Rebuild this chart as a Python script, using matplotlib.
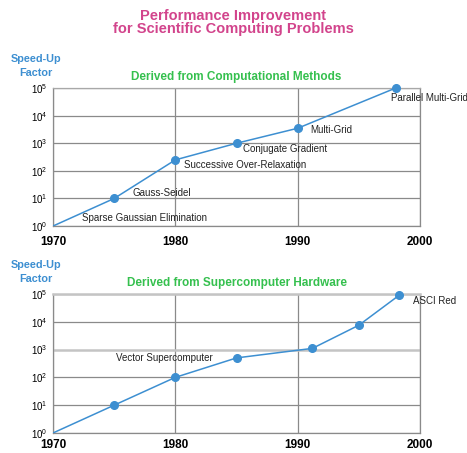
import numpy as np
import matplotlib
matplotlib.use("Agg")
import matplotlib.pyplot as plt

plt.rcParams['font.family'] = ['Liberation Sans', 'DejaVu Sans']
plt.rcParams['mathtext.fontset'] = 'custom'
plt.rcParams['mathtext.rm'] = 'Liberation Sans'

# data
years_methods = [1970, 1975, 1980, 1985, 1990, 1998]
speedup_methods = [1, 10, 250, 1000, 3500, 100000]
labels_methods = ["Sparse Gaussian Elimination", "Gauss-Seidel",
                  "Successive Over-Relaxation", "Conjugate Gradient",
                  "Multi-Grid", "Parallel Multi-Grid"]
# label offsets in points (dx, dy)
offs_methods = [(21, 6), (13, 4), (6, -4), (5, -4), (9, -1), (-3, -7)]

years_hw = [1970, 1975, 1980, 1985, 1991.2, 1995, 1998.3]
speedup_hw = [1, 10, 100, 500, 1100, 7500, 90000]
labels_hw = {3: "Vector Supercomputer", 6: "ASCI Red"}
offs_hw = {3: (-17, 0, 'right'), 6: (10, -4, 'left')}

xticks = [1970, 1980, 1990, 2000]
yticks = [1, 10, 100, 1000, 10000, 100000]
ytick_labels = [r'$\mathregular{10^{%d}}$' % i for i in range(6)]

blue = '#3d8fd1'
green = '#35c04e'
pink = '#d2448c'
grid_c = '#8a8a8a'
light_c = '#c4c4c4'

fig = plt.figure(figsize=(4.67, 4.53), dpi=100)

fig.text(0.5, 0.965, "Performance Improvement", ha='center', va='center',
         color=pink, fontsize=10.5, fontweight='bold')
fig.text(0.5, 0.935, "for Scientific Computing Problems", ha='center', va='center',
         color=pink, fontsize=10.5, fontweight='bold')


def setup(ax, title, pad_x):
    ax.set_yscale('log')
    ax.set_xlim(1970, 2000)
    ax.set_ylim(1, 100000)
    ax.set_xticks(xticks)
    ax.set_xticklabels([str(t) for t in xticks], fontweight='bold', fontsize=8.5)
    ax.set_yticks(yticks)
    ax.set_yticklabels(ytick_labels, fontsize=7)
    ax.minorticks_off()
    ax.tick_params(length=0)
    ax.tick_params(axis='x', pad=pad_x)
    ax.tick_params(axis='y', pad=4)
    ax.grid(True, color=grid_c, linewidth=0.9)
    for s in ax.spines.values():
        s.set_color(grid_c)
        s.set_linewidth(0.9)
    ax.set_title(title, color=green, fontsize=8.5, fontweight='bold', pad=6)


ax1 = fig.add_axes([0.1135, 0.501, 0.786, 0.3046])
setup(ax1, "Derived from Computational Methods", 7)
ax1.spines['top'].set_color('#a8a8a8')
ax1.plot(years_methods, speedup_methods, color=blue, linewidth=1.1, zorder=3)
ax1.plot(years_methods[1:], speedup_methods[1:], 'o', color=blue, markersize=5.5,
         zorder=4, clip_on=False)
for x, y, lab, (dx, dy) in zip(years_methods, speedup_methods, labels_methods, offs_methods):
    ax1.annotate(lab, (x, y), xytext=(dx, dy), textcoords='offset points',
                 ha='left', va='center', fontsize=7, color='#222222',
                 annotation_clip=False)

ax2 = fig.add_axes([0.1135, 0.0442, 0.786, 0.307])
setup(ax2, "Derived from Supercomputer Hardware", 4)
ax2.spines['top'].set_color(light_c)
ax2.spines['top'].set_linewidth(1.8)
ax2.get_ygridlines()[3].set_color(light_c)
ax2.get_ygridlines()[3].set_linewidth(1.8)
ax2.plot(years_hw, speedup_hw, color=blue, linewidth=1.1, zorder=3)
ax2.plot(years_hw[1:], speedup_hw[1:], 'o', color=blue, markersize=5.5,
         zorder=4, clip_on=False)
for i, lab in labels_hw.items():
    dx, dy, ha = offs_hw[i]
    ax2.annotate(lab, (years_hw[i], speedup_hw[i]), xytext=(dx, dy),
                 textcoords='offset points', ha=ha, va='center', fontsize=7,
                 color='#222222', annotation_clip=False)

for ax in (ax1, ax2):
    pos = ax.get_position()
    fig.text(pos.x0 - 0.036, pos.y1 + 0.064, "Speed-Up", ha='center', va='center',
             color=blue, fontsize=7.8, fontweight='bold')
    fig.text(pos.x0 - 0.036, pos.y1 + 0.034, "Factor", ha='center', va='center',
             color=blue, fontsize=7.8, fontweight='bold')

fig.savefig('out.png', dpi=100)
